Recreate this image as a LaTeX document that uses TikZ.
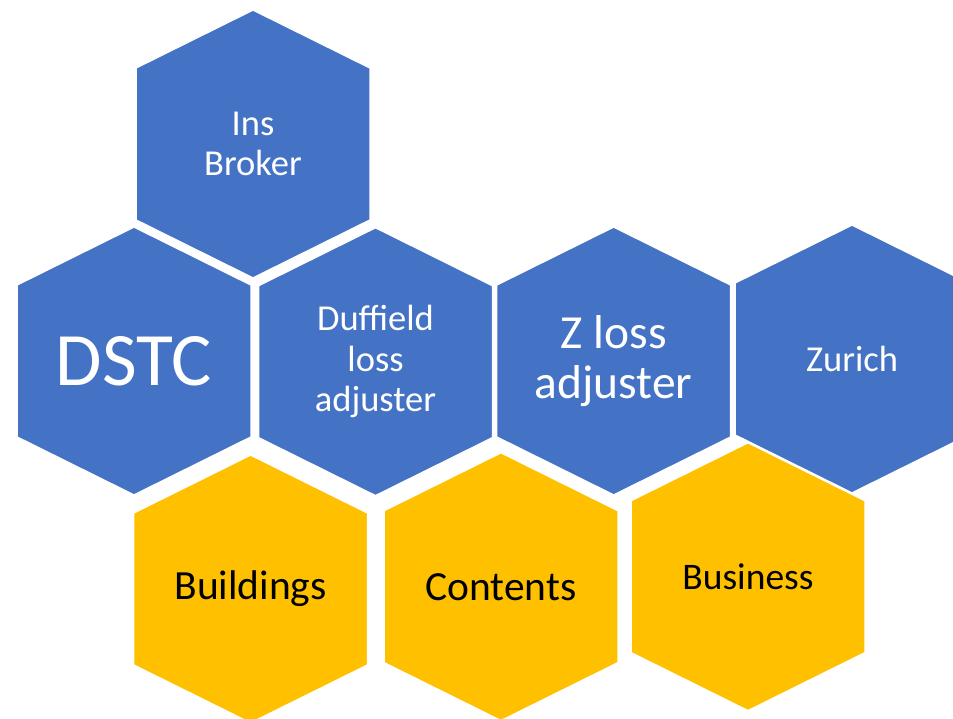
\documentclass[tikz,border=0pt]{standalone}
\usepackage{fontspec}
\setmainfont{Carlito}

\definecolor{cellblue}{HTML}{4472C4}
\definecolor{cellgold}{HTML}{FFC000}

% pointy-top hexagon around the current point
\tikzset{hexpath/.style={insert path={++(0,134) -- ++(117,-58) -- ++(0,-152)
      -- ++(-117,-58) -- ++(-117,58) -- ++(0,152) -- cycle}}}

\begin{document}
\begin{tikzpicture}
        [x=1pt, y=1pt,
        bluecell/.style={fill=cellblue, draw=white, line width=1.5pt},
        goldcell/.style={fill=cellgold, draw=white, line width=1.5pt},
        bluetext/.style={text=white, align=center, inner sep=0pt},
        goldtext/.style={text=black, align=center, inner sep=0pt}]

        \useasboundingbox (0,0) rectangle (953,719);
        \clip (0,0) rectangle (953,719);

        % centres of the cells
        \coordinate (cIns) at (253,575);
        \coordinate (cDstc) at (134,358);
        \coordinate (cDuff) at (375.5,357.3);
        \coordinate (cZloss) at (613.7,358);
        \coordinate (cZur) at (852,360);
        \coordinate (cBuild) at (250.6,130);
        \coordinate (cCont) at (501,132.3);
        \coordinate (cBus) at (748,142.3);

        % --- blue cells ---
        \draw[bluecell] (cIns) [hexpath];
        \draw[bluecell] (cDstc) [hexpath];
        \draw[bluecell] (cDuff) [hexpath];
        \draw[bluecell] (cZloss) [hexpath];
        \draw[bluecell] (cZur) [hexpath];

        % --- gold cells ---
        \draw[goldcell] (cBuild) [hexpath];
        \draw[goldcell] (cCont) [hexpath];
        \draw[goldcell] (cBus) [hexpath];

        \node[bluetext, font=\fontsize{36.5}{40.7}\selectfont] (ins) at (cIns) {Ins\\Broker};
        \node[bluetext, font=\fontsize{75.5}{80}\selectfont] (dstc) at (cDstc) {DSTC};
        \node[bluetext, font=\fontsize{36.5}{40.7}\selectfont] (duff) at (cDuff) {Duffield\\loss\\adjuster};
        \node[bluetext, font=\fontsize{47.5}{50}\selectfont] (zloss) at (cZloss) {Z loss\\adjuster};
        \node[bluetext, font=\fontsize{36.5}{40}\selectfont] (zur) at (cZur) {Zurich};

        \node[goldtext, font=\fontsize{41.5}{44}\selectfont] (build) at (cBuild) {Buildings};
        \node[goldtext, font=\fontsize{41.5}{44}\selectfont] (cont) at (cCont) {Contents};
        \node[goldtext, font=\fontsize{37.5}{40}\selectfont] (bus) at (cBus) {Business};
    \end{tikzpicture}
\end{document}
